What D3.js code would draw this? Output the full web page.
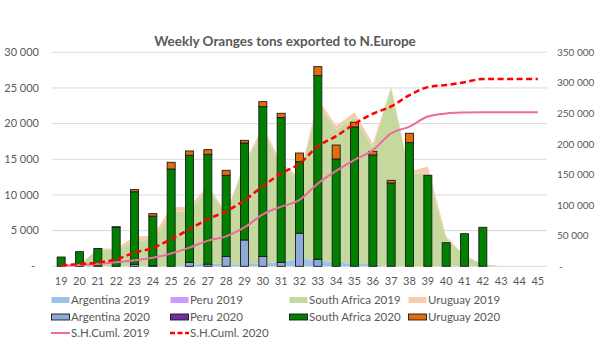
<!DOCTYPE html>
<html>
<head>
<meta charset="utf-8">
<script src="https://cdn.jsdelivr.net/npm/d3@7"></script>
<style>
body{margin:0;background:#fff;}
text{font-family:Lato,"Liberation Sans",Arial,sans-serif;fill:#595959;}
</style>
</head>
<body>
<div id="chart"></div>
<script>
var weeks = ["19","20","21","22","23","24","25","26","27","28","29","30","31","32","33","34","35","36","37","38","39","40","41","42","43","44","45"]

// 2019 season (areas)
var argentina2019   = [0,0,0,0,0,0,0,200,400,300,300,400,600,1100,900,500,400,300,0,0,0,0,0,0,0,0,0]
var peru2019        = [0,0,0,0,0,0,0,0,0,0,0,0,0,0,0,0,0,0,0,0,0,0,0,0,0,0,0]
var southAfrica2019 = [0,200,2400,2300,3600,3700,7600,7500,10600,7000,13900,18700,13500,11000,22000,18600,20500,16400,25000,13000,13000,3900,1500,300,0,0,0]
var uruguay2019     = [0,0,100,200,600,500,700,600,400,200,300,500,400,400,600,600,700,500,200,300,1000,300,0,0,0,0,0]

// 2020 season (stacked bars)
var argentina2020   = [0,0,0,0,280,80,0,560,300,1380,3690,1380,540,4630,980,0,0,0,0,0,0,0,0,0,0,0,0]
var peru2020        = [0,0,0,0,0,0,0,0,0,0,0,0,0,0,0,0,0,0,0,0,0,0,0,0,0,0,0]
var southAfrica2020 = [1300,2050,2500,5450,10170,6950,13640,15000,15400,11380,13600,21000,20300,10035,25750,15040,19540,15610,11680,17340,12760,3310,4570,5470,0,0,0]
var uruguay2020     = [0,0,0,100,300,350,940,610,650,700,370,700,610,1215,1260,1960,650,510,370,1310,0,0,0,0,0,0,0]

// southern hemisphere cumulative (right axis)
var shCuml2019 = [1000,2100,3800,6500,9800,14000,21000,30500,42000,49000,63500,85000,97500,108500,135500,156000,174000,190000,217500,228500,245000,250000,251500,252000,252000,252000,252000]
var shCuml2020 = [1500,3500,6000,11500,22500,30000,44500,60500,77000,90000,108000,131000,152000,168000,196000,213000,233000,249500,261500,280000,293000,296500,301000,306500,306500,306500,306500]

var leftTicks = [0,5000,10000,15000,20000,25000,30000]
var rightTicks = [0,50000,100000,150000,200000,250000,300000,350000]

var W = 600, H = 350
var plot = {left:52, right:547, top:52.3, bottom:266.3}

var svg = d3.select("#chart").append("svg")
    .attr("width", W)
    .attr("height", H)

var x = d3.scaleBand().domain(weeks).range([plot.left, plot.right])
var xc = function(w){ return x(w) + x.bandwidth()/2 }
var yL = d3.scaleLinear().domain([0,30000]).range([plot.bottom, plot.top])
var yR = d3.scaleLinear().domain([0,350000]).range([plot.bottom, plot.top])

var fmt = function(v){ return v === 0 ? "-" : d3.format(",")(v).replace(/,/g," ") }

//gridlines
svg.append("g").selectAll("line").data(leftTicks).enter()
    .append("line")
    .attr("x1", plot.left).attr("x2", plot.right)
    .attr("y1", function(d){ return yL(d) }).attr("y2", function(d){ return yL(d) })
    .attr("stroke", "#d9d9d9").attr("stroke-width", 1)

// left axis labels
svg.append("g").selectAll("text").data(leftTicks).enter()
    .append("text")
    .attr("x", function(d){ return d === 0 ? 35 : 39 })
    .attr("y", function(d){ return yL(d) })
    .attr("dy", "0.35em")
    .attr("text-anchor", "end")
    .style("font-size", "11px")
    .text(fmt)

// right axis labels
svg.append("g").selectAll("text").data(rightTicks).enter()
    .append("text")
    .attr("x", function(d){ return d === 0 ? 559 : 557 })
    .attr("y", function(d){ return yR(d) })
    .attr("dy", "0.35em")
    .style("font-size", "10px")
    .text(fmt)

// x labels
svg.append("g").selectAll("text").data(weeks).enter()
    .append("text")
    .attr("x", xc)
    .attr("y", 281)
    .attr("dy", "0.35em")
    .attr("text-anchor", "middle")
    .style("font-size", "11px")
    .text(function(d){ return d })

// title
svg.append("text")
    .attr("x", 285).attr("y", 46)
    .attr("text-anchor", "middle")
    .style("font-size", "13.5px").style("font-weight", "bold")
    .text("Weekly Oranges tons exported to N.Europe")

// 2019 stacked areas
var rows2019 = weeks.map(function(w, i){
    return {week:w, arg:argentina2019[i], peru:peru2019[i], sa:southAfrica2019[i], uru:uruguay2019[i]}
})
var areaKeys = ["arg","peru","sa","uru"]
var areaColors = {arg:"#9dc3e6", peru:"#cc99ff", sa:"#c5d99f", uru:"#f8cbad"}
var stack19 = d3.stack().keys(areaKeys)(rows2019)
var area = d3.area()
    .x(function(d){ return xc(d.data.week) })
    .y0(function(d){ return yL(d[0]) })
    .y1(function(d){ return yL(d[1]) })
svg.append("g").selectAll("path").data(stack19).enter()
    .append("path")
    .attr("d", area)
    .attr("fill", function(d){ return areaColors[d.key] })

// 2020 stacked bars
var rows2020 = weeks.map(function(w, i){
    return {week:w, arg:argentina2020[i], peru:peru2020[i], sa:southAfrica2020[i], uru:uruguay2020[i]}
})
var barColors = {arg:"#8eaadb", peru:"#7030a0", sa:"#008000", uru:"#e46c0a"}
var stack20 = d3.stack().keys(areaKeys)(rows2020)
var barW = 8
svg.append("g").selectAll("g").data(stack20).enter()
    .append("g")
    .attr("fill", function(d){ return barColors[d.key] })
    .selectAll("rect").data(function(d){ return d.filter(function(p){ return p[1] - p[0] > 0 }) }).enter()
    .append("rect")
    .attr("x", function(d){ return xc(d.data.week) - barW/2 })
    .attr("y", function(d){ return yL(d[1]) })
    .attr("width", barW)
    .attr("height", function(d){ return yL(d[0]) - yL(d[1]) })
    .attr("stroke", "#1a1a1a")
    .attr("stroke-width", 0.9)

// cumulative lines
var line = d3.line()
    .x(function(d, i){ return xc(weeks[i]) })
    .y(function(d){ return yR(d) })
    .curve(d3.curveMonotoneX)
svg.append("path").datum(shCuml2019)
    .attr("d", line)
    .attr("fill", "none")
    .attr("stroke", "#ef6b9b")
    .attr("stroke-width", 2)
svg.append("path").datum(shCuml2020)
    .attr("d", line)
    .attr("fill", "none")
    .attr("stroke", "#ff0000")
    .attr("stroke-width", 2.5)
    .attr("stroke-dasharray", "6,3.5")

// legend
var legendItems = [
    {name:"Argentina 2019", type:"area", color:"#9dc3e6", col:0, row:0},
    {name:"Peru 2019", type:"area", color:"#cc99ff", col:1, row:0},
    {name:"South Africa 2019", type:"area", color:"#c5d99f", col:2, row:0},
    {name:"Uruguay 2019", type:"area", color:"#f8cbad", col:3, row:0},
    {name:"Argentina 2020", type:"bar", color:"#8eaadb", col:0, row:1},
    {name:"Peru 2020", type:"bar", color:"#7030a0", col:1, row:1},
    {name:"South Africa 2020", type:"bar", color:"#008000", col:2, row:1},
    {name:"Uruguay 2020", type:"bar", color:"#e46c0a", col:3, row:1},
    {name:"S.H.Cuml. 2019", type:"line", color:"#ef6b9b", col:0, row:2},
    {name:"S.H.Cuml. 2020", type:"dash", color:"#ff0000", col:1, row:2}
]
var colX = [51, 170, 289, 408]
var rowY = [300, 317, 333]
var lg = svg.append("g").selectAll("g").data(legendItems).enter()
    .append("g")
    .attr("transform", function(d){ return "translate(" + colX[d.col] + "," + rowY[d.row] + ")" })
lg.each(function(d){
    var g = d3.select(this)
    if(d.type === "line" || d.type === "dash"){
        g.append("line")
            .attr("x1", 0).attr("x2", 19).attr("y1", 0).attr("y2", 0)
            .attr("stroke", d.color)
            .attr("stroke-width", d.type === "dash" ? 2.5 : 2)
            .attr("stroke-dasharray", d.type === "dash" ? "5,2.5" : null)
    } else {
        g.append("rect")
            .attr("x", 0.5).attr("y", -3)
            .attr("width", 18).attr("height", 6)
            .attr("fill", d.color)
            .attr("stroke", d.type === "bar" ? "#1a1a1a" : "none")
            .attr("stroke-width", 0.9)
    }
    g.append("text")
        .attr("x", 20).attr("y", 0).attr("dy", "0.35em")
        .style("font-size", "11.5px")
        .text(d.name)
})
</script>
</body>
</html>
